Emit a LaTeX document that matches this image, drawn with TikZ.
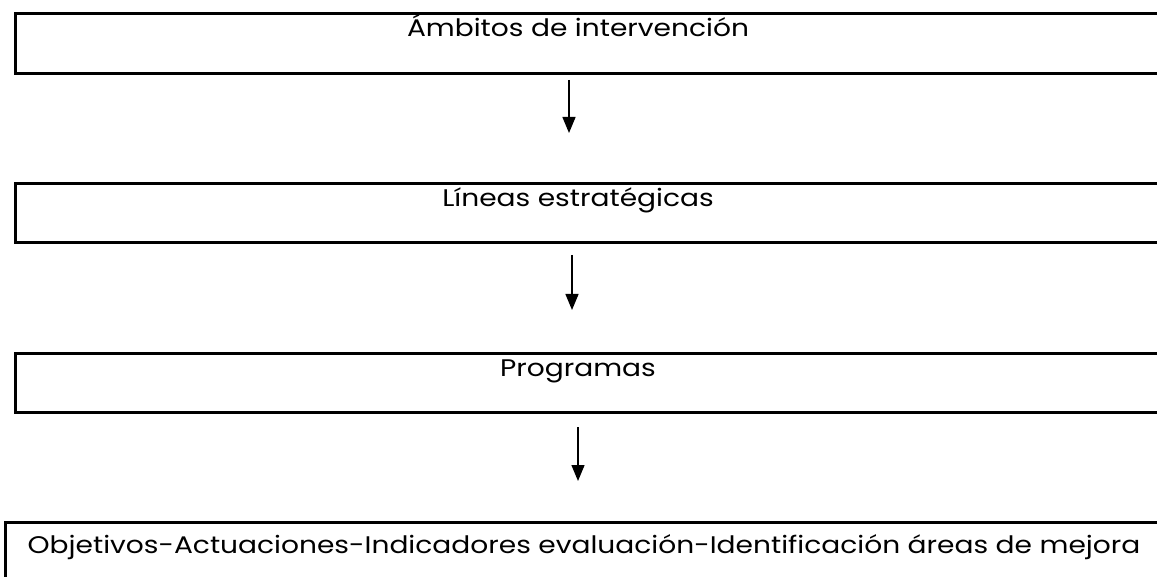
\documentclass[tikz,border=0pt]{standalone}
\usepackage{fontspec}
\setmainfont{Poppins}[FakeStretch=1.17]
\usetikzlibrary{arrows.meta}
\tikzset{
  box/.style={draw=black, line width=3pt, anchor=north west, inner sep=0pt},
  txt/.style={font=\fontsize{24}{28}\selectfont, inner sep=0pt, anchor=base},
  arr/.style={line width=1.4pt, -{Triangle[width=13pt,length=16pt]}}
}
\begin{document}
\begin{tikzpicture}[x=1pt,y=-1pt]
\useasboundingbox (0,0) rectangle (1157,577);
\clip (0,0) rectangle (1157,577);
\node[box, minimum width=1160pt, minimum height=60pt] (b1) at (14,12) {};
\node[box, minimum width=1160pt, minimum height=59pt] (b2) at (14,182) {};
\node[box, minimum width=1160pt, minimum height=59pt] (b3) at (14,352) {};
\node[box, minimum width=1170pt, minimum height=70pt] (b4) at (4,521) {};
\node[txt] (t1) at (578,37) {Ámbitos de intervención};
\node[txt] (t2) at (578,207) {Líneas estratégicas};
\node[txt] (t3) at (578,377) {Programas};
\node[txt] (t4) at (584,553) {Objetivos-Actuaciones-Indicadores evaluación-Identificación áreas de mejora};
\coordinate (a1s) at (569,80);
\coordinate (a1e) at (569,133);
\coordinate (a2s) at (572,255);
\coordinate (a2e) at (572,310);
\coordinate (a3s) at (578,427);
\coordinate (a3e) at (578,481);
\draw[arr] (a1s) -- (a1e);
\draw[arr] (a2s) -- (a2e);
\draw[arr] (a3s) -- (a3e);
\end{tikzpicture}
\end{document}
